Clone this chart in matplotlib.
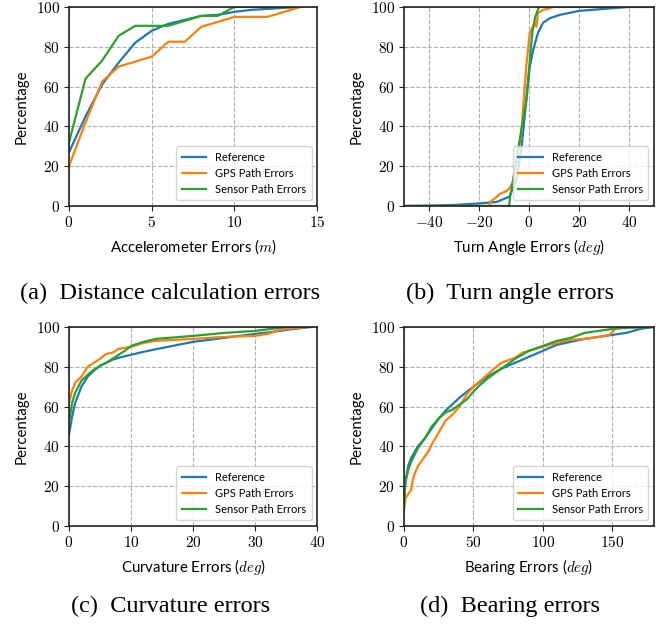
import matplotlib
matplotlib.use("Agg")
import matplotlib.pyplot as plt
from matplotlib.ticker import FuncFormatter, MultipleLocator

plt.rcParams['mathtext.fontset'] = 'cm'
plt.rcParams['font.family'] = ['Lato', 'DejaVu Sans']

# ---------------- data ----------------
# (a) Distance calculation errors
acc_x = [0, 1, 2, 3, 4, 5, 6, 7, 8, 9, 10, 11, 12, 13, 14]
acc_ref = [27, 45, 61, 72, 82, 88, 91.5, 93.5, 95.5, 96, 97.5, 98.5, 99, 99.5, 100]
acc_gps = [20, 42, 62.5, 70, 72.5, 75, 82.5, 82.5, 90, 92.5, 95, 95, 95, 97.5, 100]
acc_sen = [32, 64, 73, 85.5, 90.5, 90.5, 90.5, 93, 95.5, 95.5, 100, 100, 100, 100, 100]

# (b) Turn angle errors
turn_ref_x = [-50, -40, -30, -20, -13, -7.8, -5.1, -3.1, -1.1, 0.3, 1.6, 3.6, 5.6, 8.3, 12.3, 20, 30, 40, 50]
turn_ref_y = [0, 0.2, 0.5, 1.3, 2, 4.7, 13, 28, 53, 70, 78, 87, 92, 94.3, 96, 98, 99, 100, 100]
turn_gps_x = [-50, -15.8, -15.5, -13, -11.8, -9, -7.8, -6.4, -3.1, -1.1, 0.3, 2.3, 3.0, 3.6, 5.6, 7.5, 9.5, 50]
turn_gps_y = [0, 0, 2, 4.5, 6, 7.5, 9, 12, 36.5, 70, 87, 92, 90, 97, 98.5, 99, 100, 100]
turn_sen_x = [-50, -8.0, -7.5, -6.4, -1.1, 1.3, 2.5, 4.0, 50]
turn_sen_y = [0, 0, 5, 13, 53, 87, 95, 100, 100]

# (c) Curvature errors
curv_x = [0, 0.5, 1, 2, 3, 4, 5, 6, 7, 8, 9, 10, 12, 14, 20, 25, 30, 32, 34, 35, 39]
curv_ref = [46, 55, 62, 70, 75, 78, 80.5, 82, 83.5, 84.5, 85.3, 86, 87.5, 88.8, 92.5, 94.5, 96.5, 97.2, 98, 98.5, 100]
curv_gps = [62, 68, 72, 75, 80, 82, 84, 86.5, 87, 89, 89.5, 90, 92, 93, 94, 95, 95.5, 96.5, 98.5, 99, 100]
curv_sen = [52, 62, 67, 73, 76, 78.5, 80.5, 82, 84, 86, 88, 90.5, 92.5, 94, 95.5, 97, 98, 98.8, 99.5, 100, 100]

# (d) Bearing errors
bear_ref_x = [0, 1, 3, 5, 10, 15, 20, 25, 30, 40, 50, 60, 70, 80, 90, 100, 110, 120, 130, 140, 150, 160, 170, 180]
bear_ref_y = [10, 22, 30, 34, 40, 44, 49, 54, 58, 64.5, 70, 75, 79, 82, 85, 88, 91, 92.5, 94, 95, 96, 97, 99, 100]
bear_gps_x = [0, 1, 5, 7, 10, 13, 15, 18, 20, 25, 30, 35, 40, 45, 50, 55, 60, 65, 70, 80, 85, 90, 100, 110, 120, 130, 140, 148, 152, 155, 180]
bear_gps_y = [8, 14, 18, 25, 30, 33, 35, 38, 41, 47, 53, 56, 60, 66, 70, 73, 76, 79, 82, 84.5, 87, 88, 90, 92, 93.5, 94, 95, 96, 99, 100, 100]
bear_sen_x = [0, 1, 3, 5, 10, 15, 20, 25, 30, 35, 40, 45, 50, 55, 60, 70, 80, 90, 100, 110, 120, 130, 140, 150, 160, 180]
bear_sen_y = [10, 22, 28, 32, 39, 44, 50, 54, 57, 58.5, 61, 63.5, 67.5, 71, 74, 79, 84, 88, 90.5, 93, 94.5, 97, 98, 99, 99.5, 100]

series_labels = ['Reference', 'GPS Path Errors', 'Sensor Path Errors']
colors = ['#1f77b4', '#ff7f0e', '#2ca02c']

panels = [
    dict(pos=[0.1038, 0.672, 0.373, 0.317], x=[acc_x, acc_x, acc_x], y=[acc_ref, acc_gps, acc_sen],
         xlim=(0, 15), xstep=5, xlabel=r'Accelerometer Errors ($m$)',
         caption='(a)  Distance calculation errors', cx=0.256, cy=1 - 293 / 628),
    dict(pos=[0.6075, 0.672, 0.376, 0.317], x=[turn_ref_x, turn_gps_x, turn_sen_x],
         y=[turn_ref_y, turn_gps_y, turn_sen_y],
         xlim=(-50, 50), xstep=20, xlabel=r'Turn Angle Errors ($deg$)',
         caption='(b)  Turn angle errors', cx=0.767, cy=1 - 293 / 628),
    dict(pos=[0.1038, 0.1624, 0.373, 0.317], x=[curv_x, curv_x, curv_x], y=[curv_ref, curv_gps, curv_sen],
         xlim=(0, 40), xstep=10, xlabel=r'Curvature Errors ($deg$)',
         caption='(c)  Curvature errors', cx=0.257, cy=1 - 606 / 628),
    dict(pos=[0.6075, 0.1624, 0.376, 0.317], x=[bear_ref_x, bear_gps_x, bear_sen_x],
         y=[bear_ref_y, bear_gps_y, bear_sen_y],
         xlim=(0, 180), xstep=50, xlabel=r'Bearing Errors ($deg$)',
         caption='(d)  Bearing errors', cx=0.767, cy=1 - 606 / 628),
]

fig = plt.figure(figsize=(6.65, 6.28), dpi=100)
fmt = FuncFormatter(lambda v, p: f'${v:g}$')

for pnl in panels:
    ax = fig.add_axes(pnl['pos'])
    for xs, ys, lab, c in zip(pnl['x'], pnl['y'], series_labels, colors):
        ax.plot(xs, ys, color=c, lw=1.6, label=lab)
    ax.set_xlim(*pnl['xlim'])
    ax.set_ylim(0, 100)
    ax.xaxis.set_major_locator(MultipleLocator(pnl['xstep']))
    ax.yaxis.set_major_locator(MultipleLocator(20))
    ax.xaxis.set_major_formatter(fmt)
    ax.yaxis.set_major_formatter(fmt)
    ax.tick_params(labelsize=11, length=3.5, width=0.8, color='#222222', pad=3)
    ax.grid(True, ls='--', color='#b0b0b0', lw=0.8)
    for s in ax.spines.values():
        s.set_color('#222222')
        s.set_linewidth(1.2)
    ax.set_ylabel('Percentage', fontsize=10.8, labelpad=5)
    ax.set_xlabel(pnl['xlabel'], fontsize=10.8, labelpad=5)
    ax.legend(loc='lower right', fontsize=8, handlelength=2.2, borderpad=0.5, labelspacing=0.45)
    fig.text(pnl['cx'], pnl['cy'], pnl['caption'], ha='center', va='center',
             fontsize=17.5, family='Liberation Serif')

fig.savefig('out.png', dpi=100)
